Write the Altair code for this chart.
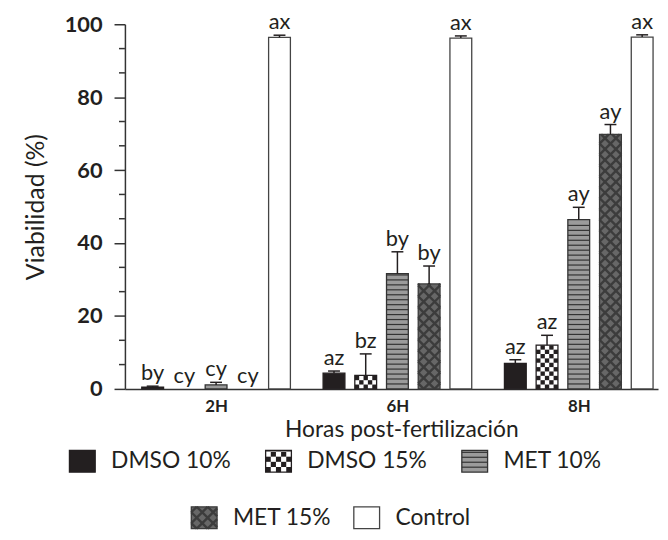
import math
import altair as alt
import pandas as pd

# ---------------- data ----------------
groups = ["2H", "6H", "8H"]
series = ["DMSO 10%", "DMSO 15%", "MET 10%", "MET 15%", "Control"]
values = {
    "2H": [0.45, 0.0, 1.1, 0.0, 96.4],
    "6H": [4.3, 3.7, 31.6, 28.8, 96.2],
    "8H": [7.0, 12.0, 46.4, 69.8, 96.5],
}
errors = {
    "2H": [0.3, 0.0, 0.7, 0.0, 0.6],
    "6H": [0.6, 5.9, 6.0, 4.9, 0.6],
    "8H": [1.0, 2.7, 3.4, 2.7, 0.6],
}
letters = {
    "2H": ["by", "cy", "cy", "cy", "ax"],
    "6H": ["az", "bz", "by", "by", "ax"],
    "8H": ["az", "az", "ay", "ay", "ax"],
}
y_ticks = [0, 20, 40, 60, 80, 100]
y_minor = [6.67, 13.33, 26.67, 33.33, 46.67, 53.33, 66.67, 73.33, 86.67, 93.33]

# ---------------- layout / style ----------------
PLOT_W, PLOT_H = 538, 368
PPU = PLOT_H / 100.0          # pixels per y unit
GROUP0, GROUP_STEP, SLOT, BAR_W, CAP_W = 92, 183, 32, 22, 12
FONT = "Lato"
INK = "#231f20"

style = {
    "DMSO 10%": dict(fill="#231f20", pattern=None, stroke="#231f20"),
    "DMSO 15%": dict(fill="#ffffff", pattern="checker", stroke="#231f20"),
    "MET 10%": dict(fill="#9b9b9b", pattern="hstripe", stroke="#333333"),
    "MET 15%": dict(fill="#676767", pattern="diamond", stroke="#3a3a3a"),
    "Control": dict(fill="#ffffff", pattern=None, stroke="#444444"),
}

# legend layout (px relative to plot origin / baseline)
legend_items = [
    ("DMSO 10%", -56, -73),
    ("DMSO 15%", 142, -73),
    ("MET 10%", 340, -73),
    ("MET 15%", 67, -130),
    ("Control", 231, -130),
]
SW_W, SW_H, LEG_GAP = 26, 22, 16


def clip_seg(x0, y0, x1, y1, xmin, xmax, ymin, ymax):
    dx, dy = x1 - x0, y1 - y0
    t0, t1 = 0.0, 1.0
    for p, q in ((-dx, x0 - xmin), (dx, xmax - x0), (-dy, y0 - ymin), (dy, ymax - y0)):
        if p == 0:
            if q < 0:
                return None
        else:
            t = q / p
            if p < 0:
                t0 = max(t0, t)
            else:
                t1 = min(t1, t)
    if t0 >= t1:
        return None
    return (x0 + t0 * dx, y0 + t0 * dy, x0 + t1 * dx, y0 + t1 * dy)


def pattern(kind, x0, x1, yb, h, rects, lines):
    """x in px, yb/h in px (y measured upward from baseline)."""
    w = x1 - x0
    if kind == "checker":
        n = 5
        c = w / n
        rows = int(math.ceil(h / c))
        for j in range(rows):
            for i in range(n):
                if (i + j) % 2 == 0:
                    ya = yb + j * c
                    yz = min(yb + (j + 1) * c, yb + h)
                    rects.append(dict(x=x0 + i * c, x2=x0 + (i + 1) * c,
                                      y=ya / PPU, y2=yz / PPU, c="#231f20"))
    elif kind == "hstripe":
        s = 5.0
        k = 1
        while k * s < h - 1:
            yy = (yb + k * s) / PPU
            lines.append(dict(x=x0, x2=x1, y=yy, y2=yy, c="#333333", sw=1.2))
            k += 1
    elif kind == "diamond":
        p = 11.0
        kmax = int((w + h) / p) + 3
        for k in range(-kmax, kmax):
            c = k * p + 5.5
            for sgn in (1, -1):
                seg = clip_seg(-1000, sgn * -1000 + c, 1000, sgn * 1000 + c, 0, w, 0, h)
                if seg:
                    ax, ay, bx, by = seg
                    lines.append(dict(x=x0 + ax, x2=x0 + bx, y=(yb + ay) / PPU,
                                      y2=(yb + by) / PPU, c="#3c3c3c", sw=2.4))


bars, rects, lines, errs, caps, labels = [], [], [], [], [], []
for g, grp in enumerate(groups):
    for s, name in enumerate(series):
        v, e, t = values[grp][s], errors[grp][s], letters[grp][s]
        cx = GROUP0 + g * GROUP_STEP + (s - 2) * SLOT
        st = style[name]
        if v > 0:
            bars.append(dict(x=cx - BAR_W / 2, x2=cx + BAR_W / 2, y=0, y2=v,
                             fill=st["fill"], stroke=st["stroke"]))
            if st["pattern"]:
                pattern(st["pattern"], cx - BAR_W / 2, cx + BAR_W / 2, 0, v * PPU, rects, lines)
        if e > 0:
            errs.append(dict(x=cx, y=v, y2=v + e))
            caps.append(dict(x=cx - CAP_W / 2, x2=cx + CAP_W / 2, y=v + e))
        labels.append(dict(x=cx, y=v + e, t=t))

leg_sw, leg_txt = [], []
for name, lx, cy in legend_items:
    st = style[name]
    yb = cy - SW_H / 2
    leg_sw.append(dict(x=lx, x2=lx + SW_W, y=yb / PPU, y2=(yb + SW_H) / PPU,
                       fill=st["fill"], stroke=st["stroke"]))
    if st["pattern"]:
        pattern(st["pattern"], lx, lx + SW_W, yb, SW_H, rects, lines)
    leg_txt.append(dict(x=lx + SW_W + LEG_GAP, y=cy / PPU, t=name))

xs = alt.Scale(domain=[0, PLOT_W], nice=False, zero=False)
ys = alt.Scale(domain=[0, 100], nice=False, zero=False)

x_axis = alt.Axis(
    values=[GROUP0 + g * GROUP_STEP for g in range(len(groups))],
    labelExpr="['" + "','".join(groups) + "'][round((datum.value - %d) / %d)]" % (GROUP0, GROUP_STEP),
    ticks=False, grid=False, domainColor="#333333", domainWidth=1.5,
    labelFont=FONT, labelFontSize=17, labelFontWeight="bold", labelColor=INK, labelPadding=10,
    title="Horas post-fertilización", titleFont=FONT, titleFontSize=23, titleFontWeight="normal",
    titleColor=INK, titlePadding=4, titleX=279,
)
y_axis = alt.Axis(
    values=y_ticks, grid=False, tickSize=11, tickWidth=1.5, tickColor="#333333",
    domainColor="#333333", domainWidth=1.5,
    labelFont=FONT, labelFontSize=22, labelFontWeight="bold", labelColor=INK, labelPadding=12,
    title="Viabilidad (%)", titleFont=FONT, titleFontSize=25, titleFontWeight="normal",
    titleColor=INK, titlePadding=16,
)


def X(f="x"):
    return alt.X(f"{f}:Q", scale=xs, axis=x_axis)


def Y(f="y"):
    return alt.Y(f"{f}:Q", scale=ys, axis=y_axis)


base_bars = alt.Chart(pd.DataFrame(bars)).mark_rect(strokeWidth=0).encode(
    x=X(), x2="x2", y=Y(), y2="y2",
    fill=alt.Fill("fill:N", scale=None),
)
sw_base = alt.Chart(pd.DataFrame(leg_sw)).mark_rect(strokeWidth=0).encode(
    x=X(), x2="x2", y=Y(), y2="y2", fill=alt.Fill("fill:N", scale=None),
)
pat_rects = alt.Chart(pd.DataFrame(rects)).mark_rect(strokeWidth=0).encode(
    x=X(), x2="x2", y=Y(), y2="y2", fill=alt.Fill("c:N", scale=None),
)
pat_lines = alt.Chart(pd.DataFrame(lines)).mark_rule().encode(
    x=X(), x2="x2", y=Y(), y2="y2", color=alt.Color("c:N", scale=None),
    strokeWidth=alt.StrokeWidth("sw:Q", scale=None),
)
bar_border = alt.Chart(pd.DataFrame(bars)).mark_rect(fillOpacity=0, strokeWidth=1.3).encode(
    x=X(), x2="x2", y=Y(), y2="y2", stroke=alt.Stroke("stroke:N", scale=None),
)
sw_border = alt.Chart(pd.DataFrame(leg_sw)).mark_rect(fillOpacity=0, strokeWidth=1.3).encode(
    x=X(), x2="x2", y=Y(), y2="y2", stroke=alt.Stroke("stroke:N", scale=None),
)
err_v = alt.Chart(pd.DataFrame(errs)).mark_rule(color="#231f20", strokeWidth=1.5).encode(
    x=X(), y=Y(), y2="y2",
)
err_c = alt.Chart(pd.DataFrame(caps)).mark_rule(color="#231f20", strokeWidth=1.5).encode(
    x=X(), x2="x2", y=Y(),
)
lab = alt.Chart(pd.DataFrame(labels)).mark_text(
    font=FONT, fontSize=22, color=INK, baseline="alphabetic", align="center", dy=-6,
).encode(x=X(), y=Y(), text="t:N")
leg_lab = alt.Chart(pd.DataFrame(leg_txt)).mark_text(
    font=FONT, fontSize=23, color=INK, baseline="middle", align="left",
).encode(x=X(), y=Y(), text="t:N")
minor = alt.Chart(pd.DataFrame({"y": y_minor, "x": [-6] * len(y_minor), "x2": [0] * len(y_minor)})).mark_rule(
    color="#333333", strokeWidth=1.5
).encode(x=X(), x2="x2", y=Y())

chart = alt.layer(
    base_bars, sw_base, pat_rects, pat_lines, bar_border, sw_border,
    err_v, err_c, lab, leg_lab, minor,
).properties(
    width=PLOT_W, height=PLOT_H,
    autosize=alt.AutoSizeParams(type="none"),
    padding={"left": 118, "top": 14, "right": 2, "bottom": 142},
    background="white",
).configure_view(stroke=None)

chart.save("out.html", embed_options={"renderer": "svg", "actions": False})
